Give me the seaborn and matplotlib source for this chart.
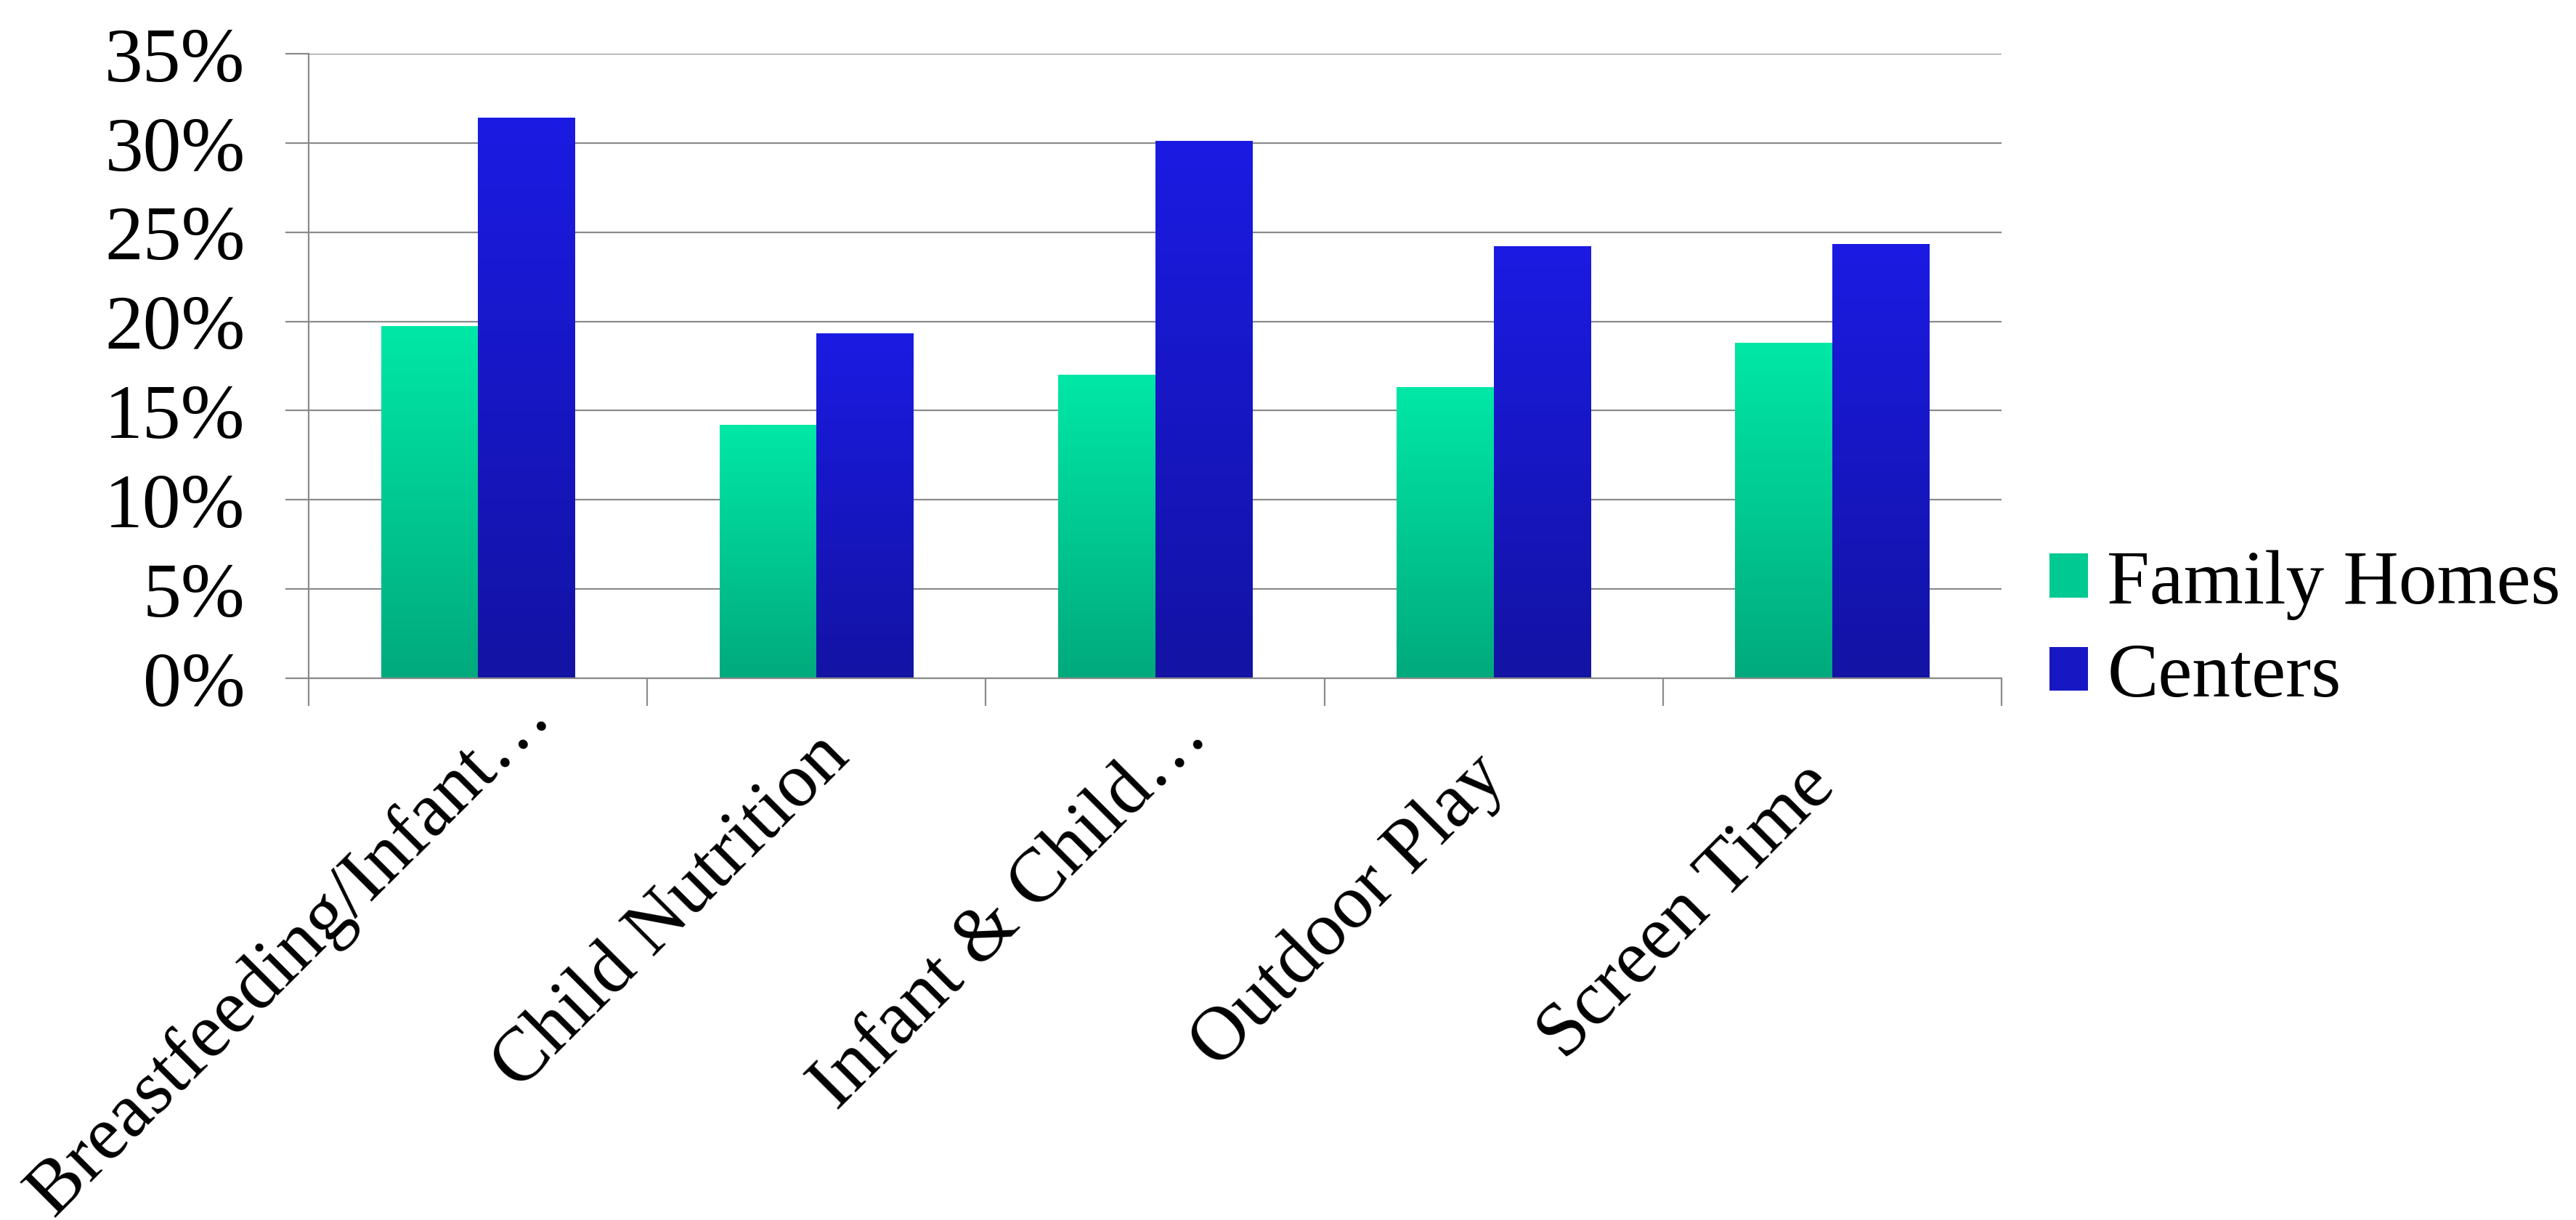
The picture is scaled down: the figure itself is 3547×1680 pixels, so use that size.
import numpy as np
import pandas as pd
import matplotlib
matplotlib.use("Agg")
import matplotlib.pyplot as plt
from matplotlib.colors import to_rgb
from matplotlib.patches import Patch
import seaborn as sns

# ---- data ----
categories = ["Breastfeeding/Infant\u2026", "Child Nutrition", "Infant & Child\u2026",
              "Outdoor Play", "Screen Time"]
family_homes = [19.7, 14.2, 17.0, 16.3, 18.8]
centers = [31.4, 19.3, 30.1, 24.2, 24.3]
series_names = ["Family Homes", "Centers"]
y_ticks = [0, 5, 10, 15, 20, 25, 30, 35]
y_tick_labels = [f"{v}%" for v in y_ticks]

df = pd.DataFrame({
    "category": categories * 2,
    "series": [series_names[0]] * len(categories) + [series_names[1]] * len(categories),
    "value": family_homes + centers,
})

# ---- style ----
sns.set_theme(style="white")
plt.rcParams["font.family"] = ["Liberation Serif", "DejaVu Serif"]
plt.rcParams["text.color"] = "black"
plt.rcParams["ytick.color"] = "black"
plt.rcParams["xtick.color"] = "black"
FS = 76
GRID = "#8a8a8a"
grad = {
    series_names[0]: ("#00E8A6", "#00AA7C"),
    series_names[1]: ("#1B1BE3", "#1313A4"),
}

fig = plt.figure(figsize=(35.48, 16.81), dpi=100)
ax = fig.add_axes([0.1198, 0.4438, 0.6570, 0.5116])

sns.barplot(data=df, x="category", y="value", hue="series", order=categories,
            hue_order=series_names, width=0.573, ax=ax, legend=False,
            errorbar=None, saturation=1)

# replace flat bars by vertical gradients
bars = [p for p in ax.patches]
n = len(categories)
for k, p in enumerate(bars):
    s = series_names[k // n]
    top, bot = np.array(to_rgb(grad[s][0])), np.array(to_rgb(grad[s][1]))
    t = np.linspace(0, 1, 256)[:, None]
    img = (top[None, :] * (1 - t) + bot[None, :] * t)[:, None, :]
    x0, w, h = p.get_x(), p.get_width(), p.get_height()
    ax.imshow(img, extent=[x0, x0 + w, 0, h], aspect="auto", zorder=2,
              interpolation="bilinear")
    p.set_visible(False)

ax.set_xlim(-0.5, n - 0.5)
ax.set_ylim(0, 35)
ax.set_axisbelow(True)

# y axis
ax.set_yticks(y_ticks)
ax.set_yticklabels(y_tick_labels, fontsize=FS, color="black")
ax.yaxis.grid(True, color=GRID, linewidth=1.6)
ax.tick_params(axis="y", which="major", direction="out", length=23, width=1.6,
               color=GRID, pad=40, left=True, labelcolor="black")

# x axis: ticks at category boundaries, labels drawn separately
ax.set_xticks(np.arange(-0.5, n, 1.0))
ax.set_xticklabels([])
ax.tick_params(axis="x", which="major", direction="out", length=27, width=1.6,
               color=GRID, bottom=True)
ax.set_xlabel("")
ax.set_ylabel("")

for side in ["top", "right"]:
    ax.spines[side].set_visible(False)
for side in ["left", "bottom"]:
    ax.spines[side].set_color(GRID)
    ax.spines[side].set_linewidth(1.6)

# rotated category labels (centered, pushed down-left if too long)
px2pt = 72.0 / fig.dpi
dx_px, dy_px = -199, 321
labels = []
for i, lab in enumerate(categories):
    t = ax.annotate(lab, xy=(i, 0), xycoords=("data", "axes fraction"),
                    xytext=(dx_px * px2pt, -dy_px * px2pt), textcoords="offset points",
                    rotation=45, rotation_mode="anchor", ha="center", va="center",
                    fontsize=FS, color="black", annotation_clip=False)
    labels.append(t)

fig.canvas.draw()
renderer = fig.canvas.get_renderer()
axis_y = ax.transAxes.transform((0, 0))[1]
limit = axis_y - 2
for t in labels:
    bb = t.get_window_extent(renderer)
    if bb.y1 > limit:
        ex = bb.y1 - limit
        t.xyann = ((dx_px - ex) * px2pt, (-dy_px - ex) * px2pt)

# legend
handles = [Patch(facecolor=tuple((np.array(to_rgb(grad[s][0])) + np.array(to_rgb(grad[s][1]))) / 2),
                 edgecolor="none") for s in series_names]
fig.legend(handles, series_names, loc="center left", bbox_to_anchor=(0.7954, 0.4824),
           frameon=False, fontsize=FS, handlelength=0.5, handleheight=0.51,
           handletextpad=0.25, labelspacing=0.30, borderpad=0, borderaxespad=0,
           labelcolor="black")

fig.savefig("out.png", dpi=100, facecolor="white")
